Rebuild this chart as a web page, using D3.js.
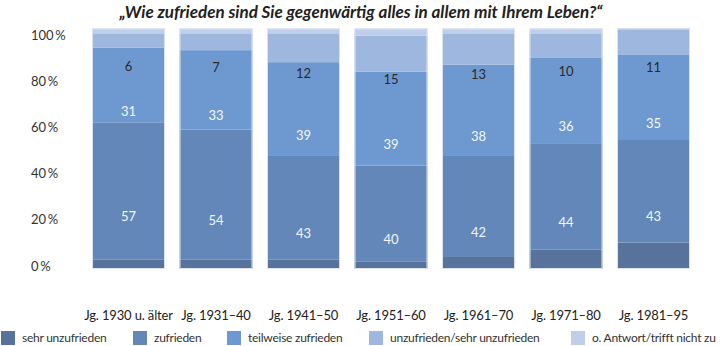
<!DOCTYPE html>
<html>
<head>
<meta charset="utf-8">
<script src="https://cdn.jsdelivr.net/npm/d3@7"></script>
<style>
  body { margin: 0; background: #fff; }
  svg { font-family: Lato, "Open Sans", sans-serif; }
</style>
</head>
<body>
<div id="chart"></div>
<script>
const cohorts = ["Jg. 1930 u. älter", "Jg. 1931–40", "Jg. 1941–50", "Jg. 1951–60", "Jg. 1961–70", "Jg. 1971–80", "Jg. 1981–95"];
const seriesNames = ["sehr unzufrieden", "zufrieden", "teilweise zufrieden", "unzufrieden/sehr unzufrieden", "o. Antwort/trifft nicht zu"];
const sehrUnzufrieden = [4, 4, 4, 3, 5, 8, 11];
const zufrieden = [57, 54, 43, 40, 42, 44, 43];
const teilweise = [31, 33, 39, 39, 38, 36, 35];
const unzufrieden = [6, 7, 12, 15, 13, 10, 11];
const keineAntwort = [2, 2, 2, 3, 2, 2, 0];
const yTicks = [0, 20, 40, 60, 80, 100];

const colors = ["#57729b", "#6287b8", "#6e99d0", "#9eb7de", "#bfcfea"];
const labelColors = [null, "#f4f6fa", "#f4f6fa", "#2a2a2a", null];

const W = 720, H = 346;
const svg = d3.select("#chart").append("svg").attr("width", W).attr("height", H);

const rows = cohorts.map((c, i) => ({
    cohort: c,
    [seriesNames[0]]: sehrUnzufrieden[i],
    [seriesNames[1]]: zufrieden[i],
    [seriesNames[2]]: teilweise[i],
    [seriesNames[3]]: unzufrieden[i],
    [seriesNames[4]]: keineAntwort[i]
}));
const stacked = d3.stack().keys(seriesNames)(rows);

const x = d3.scaleBand().domain(cohorts).range([84.75, 697.25]).paddingInner(0.166).paddingOuter(0.083);
const y = d3.scaleLinear().domain([0, 100]).range([269, 28.5]);
// tick labels in the original sit a bit off the bar scale
const yAxisScale = d3.scaleLinear().domain([0, 100]).range([266, 35]);

// title
svg.append("text")
    .attr("x", 361).attr("y", 18)
    .attr("text-anchor", "middle")
    .style("font-size", "17px").style("font-weight", "bold").style("font-style", "italic")
    .attr("fill", "#222")
    .text("„Wie zufrieden sind Sie gegenwärtig alles in allem mit Ihrem Leben?“");

// bars
const layers = svg.selectAll("g.layer")
    .data(stacked)
    .join("g").attr("class", "layer")
    .attr("fill", (d, i) => colors[i]);

layers.selectAll("rect")
    .data(d => d)
    .join("rect")
    .attr("x", d => x(d.data.cohort))
    .attr("y", d => y(d[1]))
    .attr("width", x.bandwidth())
    .attr("height", d => y(d[0]) - y(d[1]));

// light outline around each bar
svg.selectAll("rect.outline")
    .data(cohorts)
    .join("rect").attr("class", "outline")
    .attr("x", d => x(d) + 0.5)
    .attr("y", y(100) + 0.5)
    .attr("width", x.bandwidth() - 1)
    .attr("height", y(0) - y(100) - 1)
    .attr("fill", "none")
    .attr("stroke", "#dbe3f0")
    .attr("stroke-width", 1);

// value labels (shifted down like in the original)
[1, 2, 3].forEach(k => {
    svg.selectAll("text.v" + k)
        .data(stacked[k])
        .join("text").attr("class", "v" + k)
        .attr("x", d => x(d.data.cohort) + x.bandwidth() / 2)
        .attr("y", d => y((d[0] + d[1]) / 2) + 26)
        .attr("dy", "0.35em")
        .attr("text-anchor", "middle")
        .attr("fill", labelColors[k])
        .style("font-size", "13px")
        .text(d => d[1] - d[0]);
});

// y axis
const yAxis = svg.append("g")
    .attr("transform", "translate(31,0)")
    .call(d3.axisLeft(yAxisScale).tickValues(yTicks).tickSize(0).tickFormat(d => d + "\u2009%"));
yAxis.select(".domain").remove();
yAxis.selectAll("text")
    .attr("x", 0)
    .attr("text-anchor", "start")
    .attr("fill", "#333")
    .style("font-size", "13px")
    .style("font-family", "Lato, sans-serif");

// x axis
const xAxis = svg.append("g")
    .attr("transform", "translate(0,315)")
    .call(d3.axisBottom(x).tickSize(0));
xAxis.select(".domain").remove();
xAxis.selectAll("text")
    .attr("y", 0)
    .attr("dy", "0.35em")
    .attr("fill", "#222")
    .style("font-size", "13px")
    .style("letter-spacing", "-0.15px")
    .style("font-family", "Lato, sans-serif");

// legend
const legendX = [1, 133, 227, 369, 571];
const legend = svg.selectAll("g.legend")
    .data(seriesNames)
    .join("g").attr("class", "legend")
    .attr("transform", (d, i) => `translate(${legendX[i]},331)`);
legend.append("rect")
    .attr("width", 14).attr("height", 14)
    .attr("fill", (d, i) => colors[i]);
legend.append("text")
    .attr("x", 21).attr("y", 7).attr("dy", "0.35em")
    .attr("fill", "#333")
    .style("font-size", "12px")
    .style("letter-spacing", "-0.25px")
    .text(d => d);
</script>
</body>
</html>
